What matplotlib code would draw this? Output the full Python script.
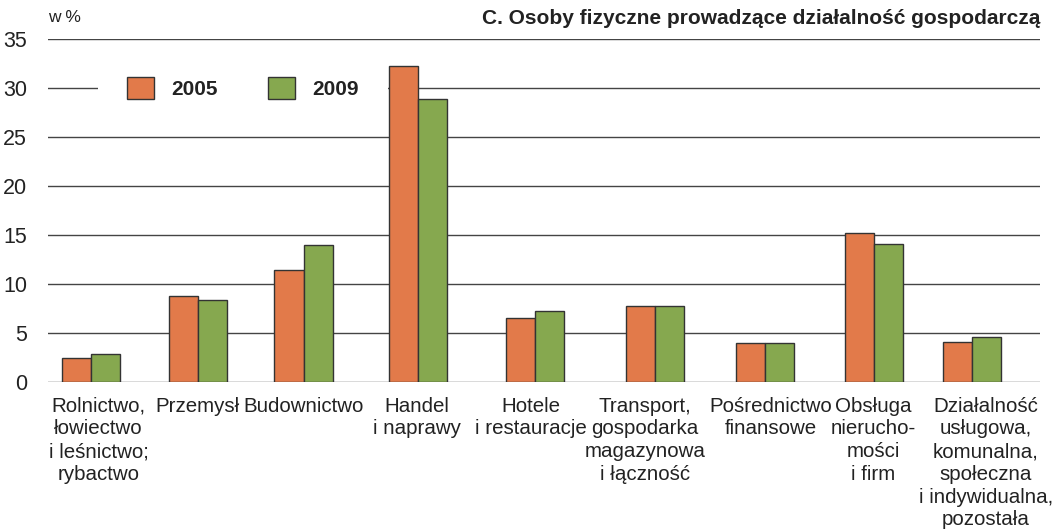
import numpy as np
import matplotlib
matplotlib.use("Agg")
import matplotlib.pyplot as plt
from matplotlib.patches import Patch

plt.rcParams['font.family'] = ['Liberation Sans', 'DejaVu Sans']

categories = [
    "Rolnictwo,\nłowiectwo\ni leśnictwo;\nrybactwo",
    "Przemysł",
    "Budownictwo",
    "Handel\ni naprawy",
    "Hotele\ni restauracje",
    "Transport,\ngospodarka\nmagazynowa\ni łączność",
    "Pośrednictwo\nfinansowe",
    "Obsługa\nnierucho-\nmości\ni firm",
    "Działalność\nusługowa,\nkomunalna,\nspołeczna\ni indywidualna,\npozostała",
]
values_2005 = [2.5, 8.8, 11.4, 32.2, 6.5, 7.8, 3.95, 15.2, 4.1]
values_2009 = [2.9, 8.4, 13.95, 28.9, 7.2, 7.8, 3.95, 14.05, 4.55]
series_labels = ["2005", "2009"]
yticks = [0, 5, 10, 15, 20, 25, 30, 35]

# layout: category slot centres (the original spaces groups unevenly)
slot_centres = [0, 0.97, 1.93, 2.97, 4.03, 5.12, 6.12, 7.11, 8.0]
# layout: horizontal nudges of the category labels (in slot units)
label_nudge = [0.07, 0, 0, -0.01, -0.035, -0.09, 0.055, -0.01, 0.125]

c05 = "#E27A4A"
c09 = "#86A84F"
edge = "#333333"
txt = "#222222"

fig = plt.figure(figsize=(10.6, 5.3), dpi=100)
ax = fig.add_axes([48/1060, 1-382/530, (1040-48)/1060, (382-39)/530])

x = np.array(slot_centres)
w = 0.265
ax.bar(x - w, values_2005, width=w, align='edge', color=c05, edgecolor=edge, linewidth=1.0, zorder=3)
ax.bar(x, values_2009, width=w, align='edge', color=c09, edgecolor=edge, linewidth=1.0, zorder=3)

ax.set_ylim(0, 35)
ax.set_xlim(-0.39, 8.617)
ax.set_yticks(yticks)
ax.set_yticklabels([str(t) for t in yticks], fontsize=15.5, color=txt)
ax.tick_params(axis='y', length=0, pad=15)
ax.tick_params(axis='x', length=0)
ax.set_xticks([])
for t in yticks:
    ax.axhline(t, color="#444444", linewidth=1.0, zorder=1)
for s in ax.spines.values():
    s.set_visible(False)

for xi, dx, lab in zip(x, label_nudge, categories):
    ax.text(xi + dx, -1.5, lab, ha='center', va='top', fontsize=14.8, color=txt,
            linespacing=1.25, transform=ax.transData)

handles = [Patch(facecolor=c05, edgecolor=edge, linewidth=1.0),
           Patch(facecolor=c09, edgecolor=edge, linewidth=1.0)]
leg = ax.legend(handles, series_labels, ncol=2, loc='center left',
                bbox_to_anchor=((98-48)/992, (382-88)/343),
                frameon=True, facecolor='white', edgecolor='none', framealpha=1,
                fancybox=False, borderpad=1.4, borderaxespad=0,
                handlelength=1.3, handleheight=1.3, handletextpad=0.82,
                columnspacing=2.4, prop={'weight': 'bold', 'size': 15})
leg.set_zorder(4)
for t in leg.get_texts():
    t.set_color(txt)

fig.text(1040/1060, 1-18/530, "C. Osoby fizyczne prowadzące działalność gospodarczą",
         ha='right', va='center', fontsize=15, fontweight='bold', color=txt)
fig.text(48/1060, 1-18/530, "w %", ha='left', va='center', fontsize=12.5, color=txt)

fig.savefig("out.png", dpi=100)
